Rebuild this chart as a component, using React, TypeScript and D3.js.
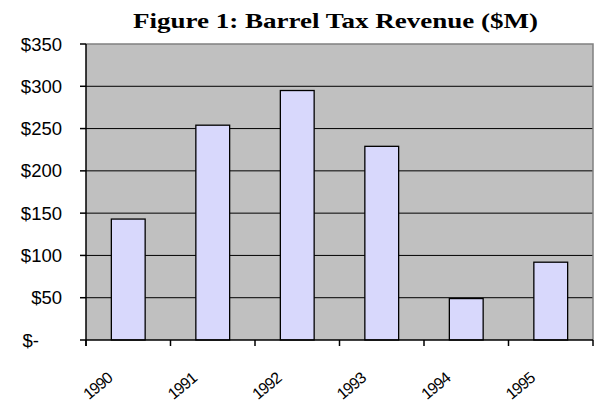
import React from "react";
import * as d3 from "d3";

const categories = ["1990", "1991", "1992", "1993", "1994", "1995"];
const revenue = [143, 254, 295, 229, 49, 92];
const yTicks = [0, 50, 100, 150, 200, 250, 300, 350];
const titleText = "Figure 1:  Barrel Tax Revenue ($M)";

const W = 595;
const H = 404;
const plot = { left: 86, right: 593, top: 44, bottom: 340 };

export default function App() {
  const x = d3
    .scaleBand<string>()
    .domain(categories)
    .range([plot.left, plot.right])
    .paddingInner(0)
    .paddingOuter(0);
  const y = d3.scaleLinear().domain([0, 350]).range([plot.bottom, plot.top]);
  const bw = x.bandwidth() * 0.4;
  const fmt = (v: number) => (v === 0 ? "$-" : "$" + d3.format("d")(v));
  const sans = "'Liberation Sans', Arial, sans-serif";
  const serif = "'Liberation Serif', 'Times New Roman', serif";

  return (
    <svg
      width={W}
      height={H}
      style={{ position: "absolute", left: 0, top: 0, background: "#fff" }}
    >
      <text
        x={335.5}
        y={28}
        textAnchor="middle"
        fontFamily={serif}
        fontWeight="bold"
        fontSize={21.5}
        textLength={405}
        lengthAdjust="spacingAndGlyphs"
      >
        {titleText}
      </text>
      <rect
        x={plot.left}
        y={plot.top}
        width={plot.right - plot.left}
        height={plot.bottom - plot.top}
        fill="#C0C0C0"
      />
      {yTicks
        .filter((t) => t > 0 && t < 350)
        .map((t) => (
          <line
            key={"g" + t}
            x1={plot.left}
            x2={plot.right}
            y1={y(t)}
            y2={y(t)}
            stroke="#000"
            strokeWidth={1}
          />
        ))}
      <path
        d={`M${plot.left},${plot.top}H${plot.right}V${plot.bottom}`}
        fill="none"
        stroke="#808080"
        strokeWidth={1.5}
      />
      {categories.map((c, i) => (
        <rect
          key={c}
          x={x(c)! + (x.bandwidth() - bw) / 2}
          y={y(revenue[i])}
          width={bw}
          height={y(0) - y(revenue[i])}
          fill="#D8D8FC"
          stroke="#000"
          strokeWidth={1.3}
        />
      ))}
      <line x1={plot.left} x2={plot.left} y1={plot.top} y2={plot.bottom + 6} stroke="#000" strokeWidth={1.5} />
      <line x1={plot.left} x2={plot.right} y1={plot.bottom} y2={plot.bottom} stroke="#000" strokeWidth={1.5} />
      {yTicks.map((t) => (
        <g key={"yt" + t}>
          <line x1={plot.left - 6} x2={plot.left} y1={y(t)} y2={y(t)} stroke="#000" strokeWidth={1.5} />
          <text
            x={t === 0 ? 39 : 62}
            y={y(t) + 6.5}
            textAnchor="end"
            fontFamily={sans}
            fontSize={18.5}
          >
            {fmt(t)}
          </text>
        </g>
      ))}
      {[...categories.map((c) => x(c)!), plot.right].map((xx, i) => (
        <line
          key={"xt" + i}
          x1={xx}
          x2={xx}
          y1={plot.bottom}
          y2={plot.bottom + 6}
          stroke="#000"
          strokeWidth={1.5}
        />
      ))}
      {categories.map((c) => {
        const cx = x(c)! + x.bandwidth() / 2 - 15;
        const cy = 380;
        return (
          <text
            key={"xl" + c}
            transform={`translate(${cx},${cy}) rotate(-40)`}
            textAnchor="end"
            fontFamily={sans}
            fontSize={16}
            letterSpacing={-1}
          >
            {c}
          </text>
        );
      })}
    </svg>
  );
}
